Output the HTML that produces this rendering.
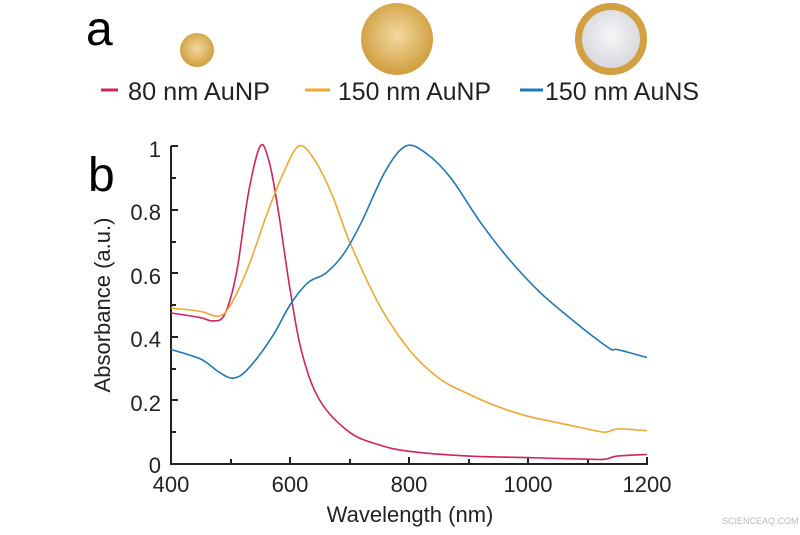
<!DOCTYPE html>
<html><head><style>
body{margin:0;background:#fff;width:800px;height:530px;overflow:hidden;font-family:"Liberation Sans",sans-serif;}
</style></head><body>
<svg width="800" height="530" xmlns="http://www.w3.org/2000/svg" font-family="Liberation Sans, sans-serif">
<defs>
<radialGradient id="g" cx="50%" cy="45%" r="55%"><stop offset="0" stop-color="#f3d9a0"/><stop offset="1" stop-color="#cf9d3c"/></radialGradient>
<radialGradient id="s" cx="50%" cy="45%" r="55%"><stop offset="0" stop-color="#f6f6f8"/><stop offset="1" stop-color="#d4d5da"/></radialGradient>
</defs>
<text x="86" y="45" font-size="48">a</text>
<circle cx="197" cy="50" r="17" fill="url(#g)"/>
<circle cx="397" cy="39" r="36" fill="url(#g)"/>
<circle cx="611" cy="39" r="32.5" fill="url(#s)" stroke="#d2a041" stroke-width="7"/>
<g font-size="25" fill="#222">
<line x1="101" y1="90" x2="118" y2="90" stroke="#d0245a" stroke-width="3"/>
<text x="128" y="100" textLength="142" lengthAdjust="spacingAndGlyphs">80 nm AuNP</text>
<line x1="305" y1="90" x2="330" y2="90" stroke="#f0a830" stroke-width="3"/>
<text x="338" y="100" textLength="153" lengthAdjust="spacingAndGlyphs">150 nm AuNP</text>
<line x1="520" y1="90" x2="543" y2="90" stroke="#1e78b8" stroke-width="3"/>
<text x="545" y="100" textLength="154" lengthAdjust="spacingAndGlyphs">150 nm AuNS</text>
</g>
<text x="88" y="191" font-size="48">b</text>
<g stroke="#222" stroke-width="2" fill="none">
<path d="M171,146 V464 H648"/>
<path d="M171,178h5M171,210h7M171,242h5M171,273h7M171,305h5M171,337h7M171,369h5M171,400h7M171,432h5M171,146h7"/>
<path d="M231,464v-5M290,464v-7M350,464v-5M409,464v-7M469,464v-5M528,464v-7M588,464v-5M647,464v-7"/>
</g>
<g font-size="22" fill="#222" text-anchor="end">
<text x="161" y="157">1</text><text x="161" y="220">0.8</text><text x="161" y="284">0.6</text>
<text x="161" y="347">0.4</text><text x="161" y="411">0.2</text><text x="161" y="473">0</text>
</g>
<g font-size="22" fill="#222" text-anchor="middle">
<text x="171" y="492">400</text><text x="290" y="492">600</text><text x="409" y="492">800</text>
<text x="528" y="492">1000</text><text x="647" y="492">1200</text>
<text x="410" y="522">Wavelength (nm)</text>
<text transform="translate(110,305) rotate(-90)">Absorbance (a.u.)</text>
</g>
<path id="r" fill="none" stroke="#d0245a" stroke-width="1.6"/>
<path id="o" fill="none" stroke="#f0a830" stroke-width="1.6"/>
<path id="b" fill="none" stroke="#1e78b8" stroke-width="1.6"/>
<text x="722" y="524" font-size="9" fill="#bbb">SCIENCEAQ.COM</text>
</svg>
<script>
function P(d){var p=d.map(function(a){return[171+(a[0]-400)*0.595,464-318*a[1]]});
var s="M"+p[0][0].toFixed(1)+","+p[0][1].toFixed(1);
for(var i=0;i<p.length-1;i++){var a=p[i-1]||p[i],b=p[i],c=p[i+1],e=p[i+2]||c;
s+="C"+(b[0]+(c[0]-a[0])/6).toFixed(1)+","+(b[1]+(c[1]-a[1])/6).toFixed(1)+" "+(c[0]-(e[0]-b[0])/6).toFixed(1)+","+(c[1]-(e[1]-b[1])/6).toFixed(1)+" "+c[0].toFixed(1)+","+c[1].toFixed(1);}
return s;}
document.getElementById('r').setAttribute('d',P([[400,.475],[450,.46],[470,.45],[490,.47],[510,.6],[530,.85],[550,1],[565,.95],[580,.8],[600,.55],[620,.35],[650,.2],[700,.1],[750,.06],[800,.04],[900,.025],[1000,.02],[1100,.015],[1130,.015],[1150,.025],[1200,.03]]));
document.getElementById('o').setAttribute('d',P([[400,.49],[450,.48],[480,.465],[500,.5],[530,.62],[560,.78],[590,.92],[615,1],[640,.96],[670,.85],[700,.7],[750,.5],[800,.36],[850,.27],[900,.22],[950,.18],[1000,.15],[1050,.13],[1100,.11],[1130,.1],[1150,.11],[1200,.105]]));
document.getElementById('b').setAttribute('d',P([[400,.36],[450,.33],[480,.29],[505,.27],[530,.3],[570,.4],[600,.5],[630,.57],[660,.6],[690,.66],[720,.76],[760,.92],[795,1],[830,.975],[870,.9],[920,.76],[970,.64],[1020,.54],[1070,.46],[1110,.4],[1140,.36],[1150,.36],[1200,.335]]));
</script>
</body></html>
